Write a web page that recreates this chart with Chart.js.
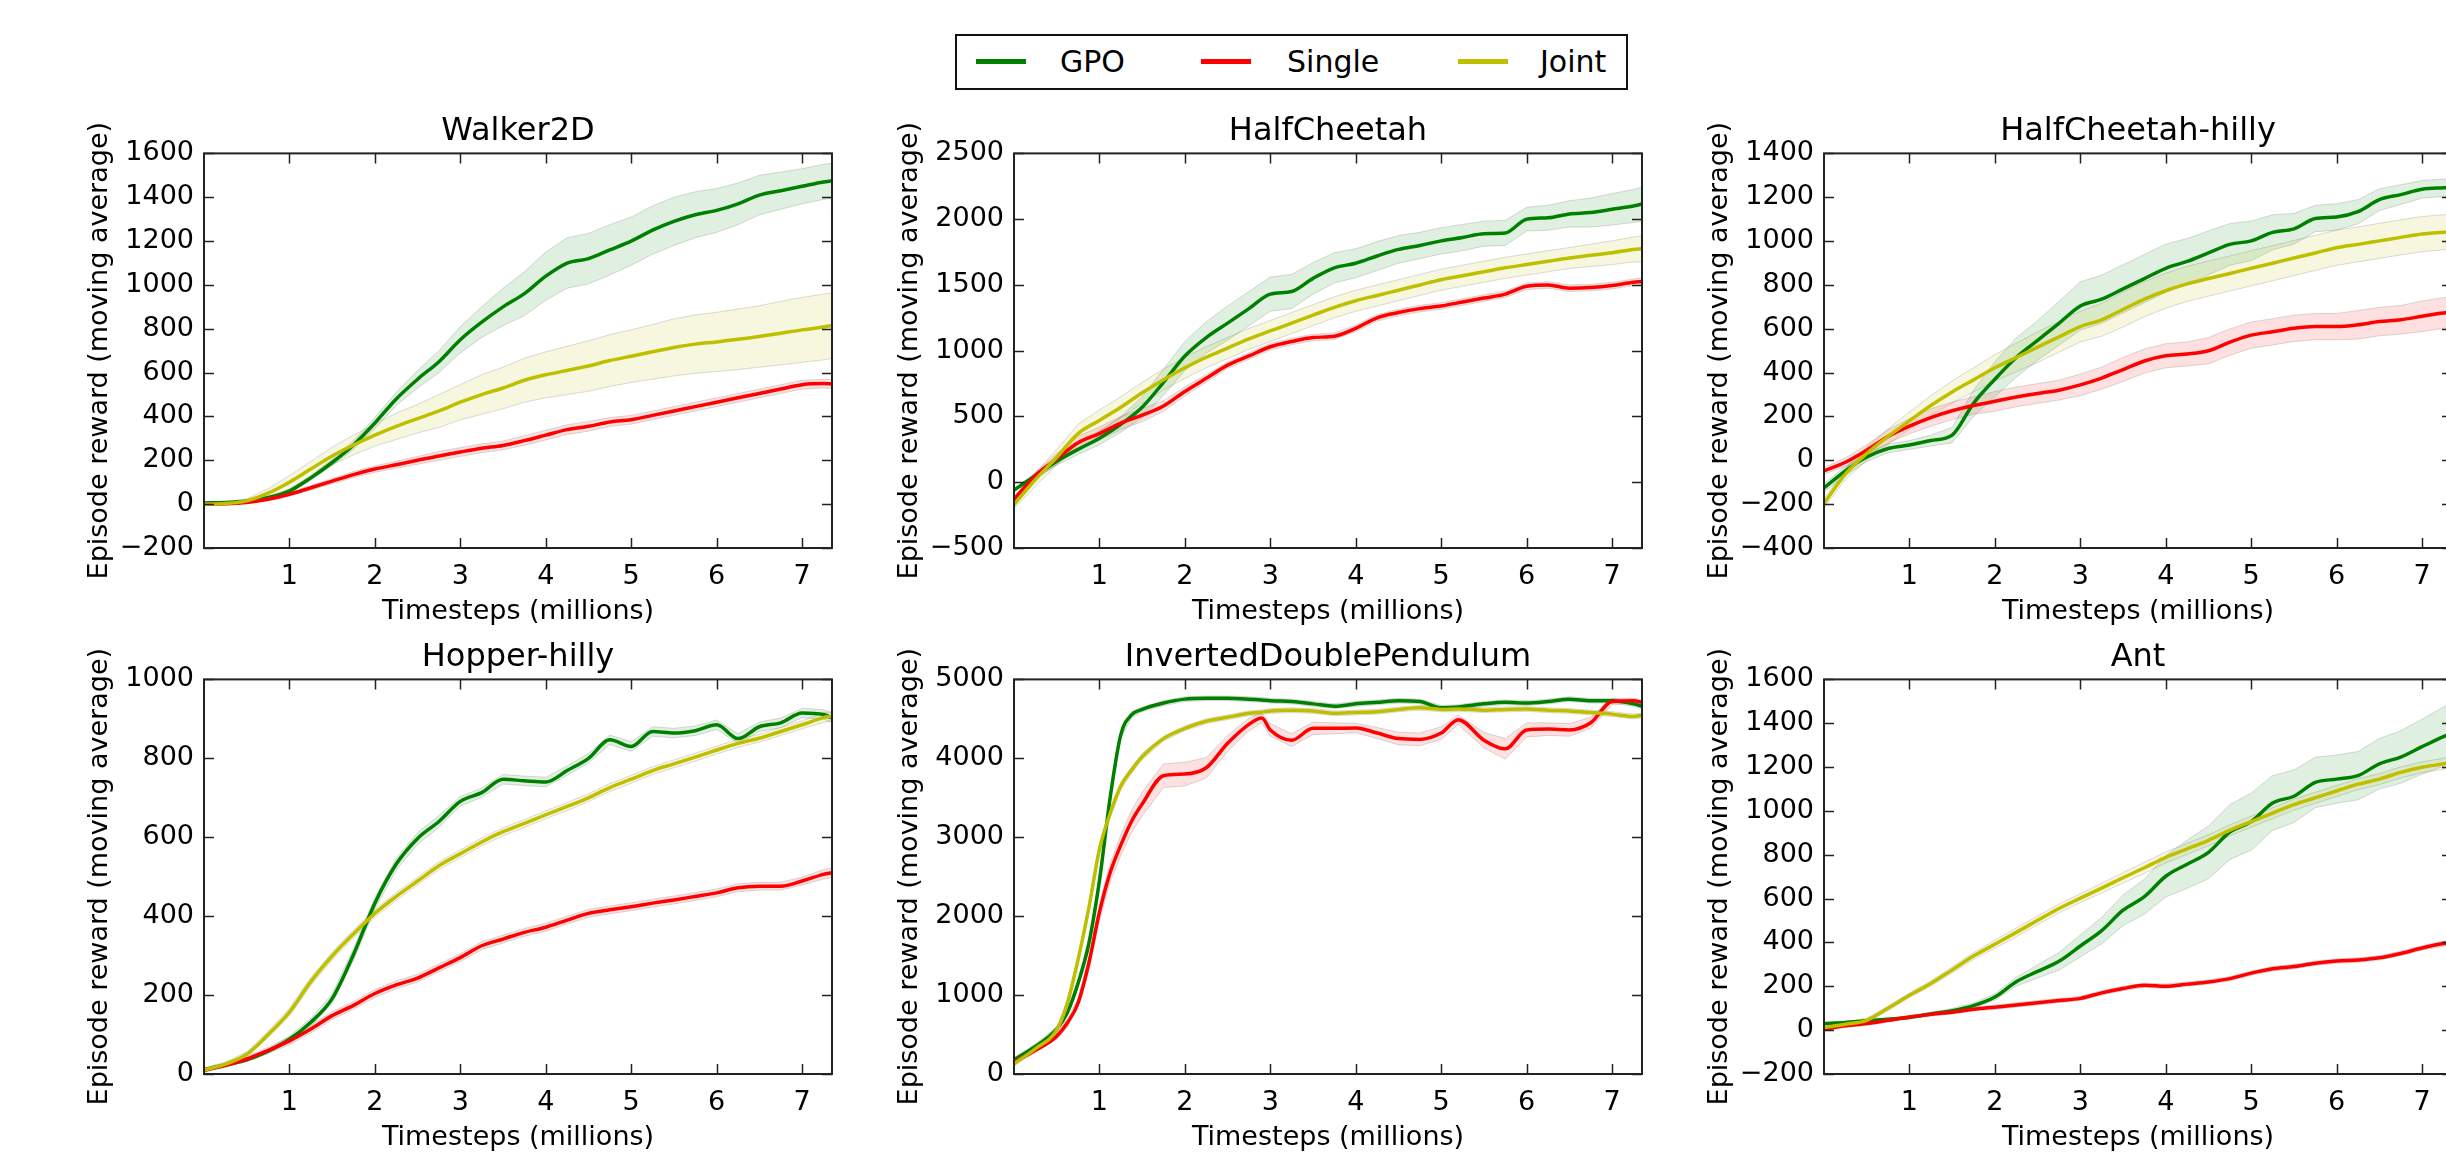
<!DOCTYPE html>
<html>
<head>
<meta charset="utf-8">
<title>GPO vs Single vs Joint</title>
<script src="https://cdn.jsdelivr.net/npm/chart.js@4.4.1/dist/chart.umd.min.js"></script>
<style>
    html, body {
        margin: 0;
        padding: 0;
        width: 2446px;
        height: 1155px;
        overflow: hidden;
        background: #fff;
        position: relative;
        font-family: 'DejaVu Sans', sans-serif;
    }
    canvas { position: absolute; }
    #legend {
        position: absolute;
        left: 955px;
        top: 34px;
        width: 669px;
        height: 52px;
        border: 2px solid #111;
        background: #fff;
    }
    #legend .key {
        position: absolute;
        top: 23px;
        width: 50px;
        height: 5px;
    }
    #legend .lab {
        position: absolute;
        top: 0;
        line-height: 52px;
        font-size: 30px;
        color: #000;
    }
</style>
</head>
<body>
<div id="legend">
    <span class="key" style="left:19px; background:#008000"></span><span class="lab" style="left:103px">GPO</span>
    <span class="key" style="left:244px; background:#ff0000"></span><span class="lab" style="left:330px">Single</span>
    <span class="key" style="left:501px; background:#bfbf00"></span><span class="lab" style="left:583px">Joint</span>
</div>
<script>
// timesteps (millions) used for the sampled curves
const steps = [0, 0.25, 0.5, 0.75, 1, 1.25, 1.5, 1.75, 2, 2.25, 2.5, 2.75, 3, 3.25, 3.5, 3.75,
    4, 4.25, 4.5, 4.75, 5, 5.25, 5.5, 5.75, 6, 6.25, 6.5, 6.75, 7, 7.25, 7.35];
const idpSteps = [0, 0.25, 0.5, 0.625, 0.75, 0.875, 1, 1.125, 1.25, 1.375, 1.5, 1.75, 2, 2.25, 2.5, 2.75, 2.9,
    3, 3.25, 3.5, 3.75, 4, 4.25, 4.5, 4.75, 5, 5.2, 5.5, 5.75, 6, 6.25, 6.5, 6.75, 7, 7.25, 7.35];
const xTicks = [1, 2, 3, 4, 5, 6, 7];

const seriesNames = ['GPO', 'Single', 'Joint'];
const panelTitles = ['Walker2D', 'HalfCheetah', 'HalfCheetah-hilly', 'Hopper-hilly', 'InvertedDoublePendulum', 'Ant'];
// [min, max, step] of each y axis
const yRanges = [[-200, 1600, 200], [-500, 2500, 500], [-400, 1400, 200], [0, 1000, 200], [0, 5000, 1000], [-200, 1600, 200]];

// Walker2D
const walkerGpo = [5, 8, 15, 30, 60, 120, 190, 270, 370, 480, 570, 650, 750, 830, 900, 960, 1040, 1100, 1120, 1160, 1200, 1250, 1290, 1320, 1340, 1370, 1410, 1430, 1450, 1470, 1475];
const walkerGpoBand = [5, 5, 5, 5, 8, 10, 15, 20, 25, 30, 40, 50, 60, 70, 85, 100, 110, 115, 115, 115, 110, 110, 110, 105, 100, 95, 90, 85, 80, 80, 80];
const walkerSingle = [0, 2, 8, 22, 45, 75, 105, 135, 160, 180, 200, 220, 238, 255, 268, 290, 315, 340, 355, 375, 385, 405, 425, 445, 465, 485, 505, 525, 545, 550, 548];
const walkerSingleBand = [5, 5, 5, 5, 8, 10, 12, 14, 15, 16, 18, 20, 20, 20, 20, 22, 22, 22, 22, 20, 20, 20, 20, 20, 20, 20, 20, 20, 20, 20, 20];
const walkerJoint = [0, 3, 15, 50, 100, 160, 220, 270, 315, 355, 390, 425, 465, 500, 530, 565, 590, 610, 630, 655, 675, 695, 715, 730, 740, 752, 765, 780, 795, 808, 815];
const walkerJointBand = [3, 5, 10, 20, 30, 35, 40, 45, 50, 60, 65, 75, 80, 90, 95, 100, 105, 110, 115, 118, 120, 125, 130, 133, 135, 138, 140, 145, 148, 150, 150];

// HalfCheetah
const cheetahGpo = [-60, 50, 160, 250, 335, 440, 570, 760, 960, 1100, 1210, 1320, 1430, 1450, 1550, 1630, 1665, 1720, 1770, 1800, 1835, 1860, 1890, 1895, 2000, 2010, 2040, 2050, 2075, 2100, 2115];
const cheetahGpoBand = [10, 20, 30, 40, 50, 60, 80, 100, 110, 120, 130, 130, 130, 130, 120, 115, 110, 110, 105, 100, 100, 100, 95, 95, 90, 95, 100, 110, 120, 125, 130];
const cheetahSingle = [-130, 50, 178, 300, 370, 450, 510, 580, 690, 790, 890, 960, 1030, 1070, 1100, 1110, 1170, 1250, 1290, 1320, 1340, 1370, 1400, 1430, 1490, 1500, 1475, 1480, 1495, 1520, 1525];
const cheetahSingleBand = [20, 30, 40, 50, 50, 50, 50, 40, 35, 30, 25, 25, 25, 25, 25, 25, 25, 25, 25, 25, 25, 25, 25, 25, 25, 25, 25, 25, 25, 25, 25];
const cheetahJoint = [-170, 20, 190, 370, 470, 570, 680, 780, 870, 950, 1020, 1090, 1150, 1210, 1270, 1330, 1380, 1420, 1460, 1500, 1540, 1570, 1600, 1630, 1655, 1680, 1705, 1725, 1745, 1770, 1775];
const cheetahJointBand = [30, 50, 60, 70, 80, 80, 80, 80, 80, 80, 80, 80, 80, 80, 80, 80, 80, 80, 80, 80, 80, 80, 80, 80, 80, 80, 80, 85, 90, 95, 100];

// HalfCheetah-hilly
const hillyGpo = [-126, -48, 15, 54, 70, 90, 115, 260, 370, 469, 547, 625, 704, 735, 782, 829, 876, 907, 946, 985, 1001, 1040, 1056, 1103, 1110, 1134, 1189, 1212, 1236, 1243, 1245];
const hillyGpoBand = [20, 20, 20, 20, 20, 25, 35, 60, 80, 90, 90, 100, 110, 110, 110, 110, 110, 105, 100, 95, 90, 80, 70, 60, 60, 55, 50, 45, 40, 40, 40];
const hillySingle = [-48, -9, 46, 109, 156, 195, 226, 250, 269, 289, 305, 320, 344, 375, 414, 453, 477, 485, 500, 539, 571, 586, 602, 610, 610, 618, 633, 641, 657, 672, 675];
const hillySingleBand = [15, 20, 25, 30, 35, 40, 40, 40, 45, 45, 45, 45, 50, 50, 55, 55, 55, 55, 60, 60, 60, 60, 60, 60, 60, 65, 65, 65, 70, 70, 70];
const hillyJoint = [-196, -63, 31, 109, 180, 250, 312, 367, 422, 469, 516, 563, 610, 641, 688, 735, 774, 805, 829, 852, 876, 899, 923, 946, 970, 985, 1001, 1017, 1032, 1040, 1043];
const hillyJointBand = [20, 25, 30, 35, 40, 45, 50, 55, 60, 65, 70, 70, 70, 75, 80, 80, 80, 80, 80, 80, 80, 80, 80, 80, 80, 80, 80, 80, 80, 80, 80];

// Hopper-hilly
const hopperGpo = [10, 23, 36, 58, 88, 131, 191, 303, 433, 532, 597, 640, 691, 713, 747, 743, 740, 769, 800, 847, 830, 868, 864, 870, 885, 850, 880, 890, 915, 911, 903];
const hopperGpoBand = [5, 5, 5, 5, 8, 10, 12, 15, 15, 15, 15, 15, 12, 12, 12, 12, 12, 12, 12, 12, 12, 12, 12, 12, 12, 12, 12, 12, 12, 12, 12];
const hopperSingle = [10, 22, 38, 60, 84, 114, 148, 174, 204, 226, 243, 269, 295, 325, 342, 359, 372, 390, 407, 416, 424, 433, 441, 450, 459, 472, 476, 476, 489, 506, 510];
const hopperSingleBand = [5, 5, 6, 8, 10, 10, 10, 10, 10, 10, 10, 10, 10, 10, 10, 10, 10, 10, 10, 10, 10, 10, 10, 10, 10, 10, 10, 10, 10, 12, 12];
const hopperJoint = [10, 25, 50, 100, 157, 234, 299, 355, 407, 450, 489, 528, 558, 588, 614, 635, 657, 678, 700, 726, 747, 769, 786, 803, 821, 838, 851, 868, 885, 903, 907];
const hopperJointBand = [5, 5, 6, 8, 10, 10, 10, 10, 10, 10, 10, 10, 10, 10, 10, 10, 10, 10, 10, 10, 10, 10, 10, 10, 10, 10, 10, 10, 10, 12, 12];

// InvertedDoublePendulum (denser samples around the fast rise)
const idpGpo = [180, 350, 570, 780, 1150, 1650, 2450, 3500, 4300, 4550, 4620, 4700, 4750, 4760, 4760, 4750, 4740, 4730, 4720, 4690, 4660, 4690, 4710, 4730, 4720, 4640, 4650, 4690, 4710, 4700, 4720, 4750, 4730, 4730, 4690, 4660];
const idpGpoBand = [30, 30, 30, 40, 50, 60, 60, 60, 50, 40, 30, 30, 30, 30, 30, 30, 30, 30, 30, 30, 30, 30, 30, 30, 30, 30, 30, 30, 30, 30, 30, 30, 30, 30, 30, 30];
const idpSingle = [150, 300, 480, 650, 900, 1400, 2050, 2550, 2900, 3200, 3420, 3780, 3800, 3880, 4190, 4430, 4510, 4360, 4230, 4380, 4380, 4385, 4320, 4250, 4240, 4320, 4490, 4230, 4120, 4360, 4370, 4360, 4450, 4720, 4730, 4710];
const idpSingleBand = [30, 30, 40, 50, 60, 80, 100, 120, 130, 140, 150, 150, 150, 130, 100, 80, 60, 80, 80, 80, 70, 60, 70, 80, 80, 80, 60, 100, 130, 90, 80, 80, 70, 40, 30, 30];
const idpJoint = [130, 320, 560, 900, 1450, 2100, 2850, 3300, 3650, 3850, 4020, 4250, 4380, 4470, 4520, 4570, 4585, 4600, 4610, 4600, 4570, 4580, 4590, 4620, 4640, 4620, 4625, 4610, 4620, 4625, 4610, 4600, 4580, 4560, 4530, 4545];
const idpJointBand = [30, 30, 30, 40, 50, 60, 60, 60, 50, 40, 40, 30, 30, 30, 30, 30, 30, 30, 30, 30, 30, 30, 30, 30, 30, 30, 30, 30, 30, 30, 30, 30, 30, 30, 30, 30];

// Ant
const antGpo = [30, 35, 43, 50, 58, 74, 89, 112, 151, 221, 268, 314, 384, 454, 547, 609, 702, 757, 811, 904, 951, 1036, 1067, 1130, 1145, 1161, 1215, 1246, 1293, 1339, 1355];
const antGpoBand = [5, 5, 5, 5, 5, 8, 10, 12, 15, 20, 30, 40, 50, 60, 70, 80, 95, 110, 120, 125, 130, 125, 120, 115, 110, 110, 115, 120, 125, 135, 140];
const antSingle = [5, 20, 30, 45, 60, 72, 82, 95, 105, 115, 125, 135, 145, 170, 190, 205, 200, 210, 220, 235, 260, 280, 290, 305, 315, 320, 330, 350, 375, 395, 400];
const antSingleBand = [8, 8, 8, 8, 8, 8, 8, 8, 10, 10, 10, 10, 10, 10, 10, 10, 10, 10, 10, 10, 10, 10, 10, 10, 10, 10, 10, 10, 10, 12, 12];
const antJoint = [12, 27, 45, 100, 159, 213, 275, 338, 392, 446, 501, 555, 602, 648, 695, 741, 788, 827, 866, 912, 951, 990, 1029, 1060, 1091, 1122, 1145, 1176, 1199, 1215, 1223];
const antJointBand = [10, 10, 10, 10, 10, 12, 14, 16, 18, 20, 20, 20, 20, 22, 24, 25, 25, 25, 25, 25, 25, 25, 25, 25, 25, 25, 25, 25, 25, 25, 25];

// panel layout (pixels)
const plotLefts = [204, 1014, 1824];
const plotTops = [153, 679];
const plotW = 628, plotH = 395;
const padL = 200, padT = 60, padB = 80, padR = 12;

const lineColors = ['#008000', '#ff0000', '#bfbf00'];
const bandColors = ['rgba(0,128,0,0.12)', 'rgba(255,0,0,0.12)', 'rgba(191,191,0,0.12)'];

const panels = [
    {x: steps, s: [[walkerGpo, walkerGpoBand], [walkerSingle, walkerSingleBand], [walkerJoint, walkerJointBand]]},
    {x: steps, s: [[cheetahGpo, cheetahGpoBand], [cheetahSingle, cheetahSingleBand], [cheetahJoint, cheetahJointBand]]},
    {x: steps, s: [[hillyGpo, hillyGpoBand], [hillySingle, hillySingleBand], [hillyJoint, hillyJointBand]]},
    {x: steps, s: [[hopperGpo, hopperGpoBand], [hopperSingle, hopperSingleBand], [hopperJoint, hopperJointBand]]},
    {x: idpSteps, s: [[idpGpo, idpGpoBand], [idpSingle, idpSingleBand], [idpJoint, idpJointBand]]},
    {x: steps, s: [[antGpo, antGpoBand], [antSingle, antSingleBand], [antJoint, antJointBand]]}
];

// frame on all four sides with inward ticks, like the classic matplotlib axes
const frameTicks = {
    id: 'frameTicks',
    afterDatasetsDraw(chart) {
        const {ctx, chartArea: a, scales: {x, y}} = chart;
        ctx.save();
        ctx.strokeStyle = '#222';
        ctx.lineWidth = 1.5;
        ctx.beginPath();
        x.ticks.forEach(t => {
            const px = Math.round(x.getPixelForValue(t.value)) + 0.5;
            ctx.moveTo(px, a.bottom); ctx.lineTo(px, a.bottom - 10);
            ctx.moveTo(px, a.top); ctx.lineTo(px, a.top + 10);
        });
        y.ticks.forEach(t => {
            const py = Math.round(y.getPixelForValue(t.value)) + 0.5;
            ctx.moveTo(a.left, py); ctx.lineTo(a.left + 10, py);
            ctx.moveTo(a.right, py); ctx.lineTo(a.right - 10, py);
        });
        ctx.stroke();
        ctx.lineWidth = 2;
        ctx.strokeRect(a.left, a.top, a.width, a.height);
        ctx.restore();
    }
};

function fmt(v) {
    return String(v).replace('-', '\u2212');
}

function buildDatasets(p) {
    const sets = [];
    p.s.forEach(([mean, band], k) => {
        sets.push({
            data: p.x.map((t, i) => ({x: t, y: mean[i] + band[i]})),
            borderColor: 'rgba(110,110,110,0.25)', borderWidth: 1,
            backgroundColor: bandColors[k], fill: '+1', pointRadius: 0, order: 10
        });
        sets.push({
            data: p.x.map((t, i) => ({x: t, y: mean[i] - band[i]})),
            borderColor: 'rgba(110,110,110,0.25)', borderWidth: 1,
            fill: false, pointRadius: 0, order: 10
        });
    });
    p.s.forEach(([mean], k) => {
        sets.push({
            label: seriesNames[k],
            data: p.x.map((t, i) => ({x: t, y: mean[i]})),
            borderColor: lineColors[k], borderWidth: 3.5,
            fill: false, pointRadius: 0, order: 3 - k,
            cubicInterpolationMode: 'monotone'
        });
    });
    return sets;
}

document.addEventListener('DOMContentLoaded', function() {
    Chart.defaults.font.family = "'DejaVu Sans', sans-serif";
    Chart.defaults.color = '#000';

    panels.forEach((p, idx) => {
        const col = idx % 3, row = Math.floor(idx / 3);
        const [yMin, yMax, yStep] = yRanges[idx];
        const canvas = document.createElement('canvas');
        const w = padL + plotW + padR, h = padT + plotH + padB;
        canvas.width = w; canvas.height = h;
        canvas.style.width = w + 'px'; canvas.style.height = h + 'px';
        canvas.style.left = (plotLefts[col] - padL) + 'px';
        canvas.style.top = (plotTops[row] - padT) + 'px';
        document.body.appendChild(canvas);

        new Chart(canvas.getContext('2d'), {
            type: 'line',
            data: {datasets: buildDatasets(p)},
            options: {
                responsive: false,
                animation: false,
                devicePixelRatio: 1,
                layout: {padding: {left: 0, right: padR, top: 0, bottom: 0}},
                plugins: {
                    legend: {display: false},
                    tooltip: {enabled: false},
                    title: {
                        display: true,
                        fullSize: false,
                        text: panelTitles[idx],
                        font: {size: 32, weight: 'normal'},
                        padding: {top: 19, bottom: 3}
                    }
                },
                scales: {
                    x: {
                        type: 'linear',
                        min: 0,
                        max: 7.35,
                        afterBuildTicks: s => { s.ticks = xTicks.map(v => ({value: v})); },
                        afterFit: s => { s.height = padB; },
                        grid: {display: false, drawTicks: false, tickLength: 0},
                        border: {display: false},
                        ticks: {font: {size: 27}, padding: 13, maxRotation: 0, callback: v => fmt(v)},
                        title: {display: true, text: 'Timesteps (millions)', font: {size: 27}, padding: {top: 0, bottom: 0}}
                    },
                    y: {
                        min: yMin,
                        max: yMax,
                        afterFit: s => { s.width = padL; },
                        grid: {display: false, drawTicks: false, tickLength: 0},
                        border: {display: false},
                        ticks: {stepSize: yStep, font: {size: 27}, padding: 10, callback: v => fmt(v)},
                        title: {display: true, text: 'Episode reward (moving average)', font: {size: 27}, padding: {top: 80, bottom: 0}}
                    }
                }
            },
            plugins: [frameTicks]
        });
    });
});
</script>
</body>
</html>
